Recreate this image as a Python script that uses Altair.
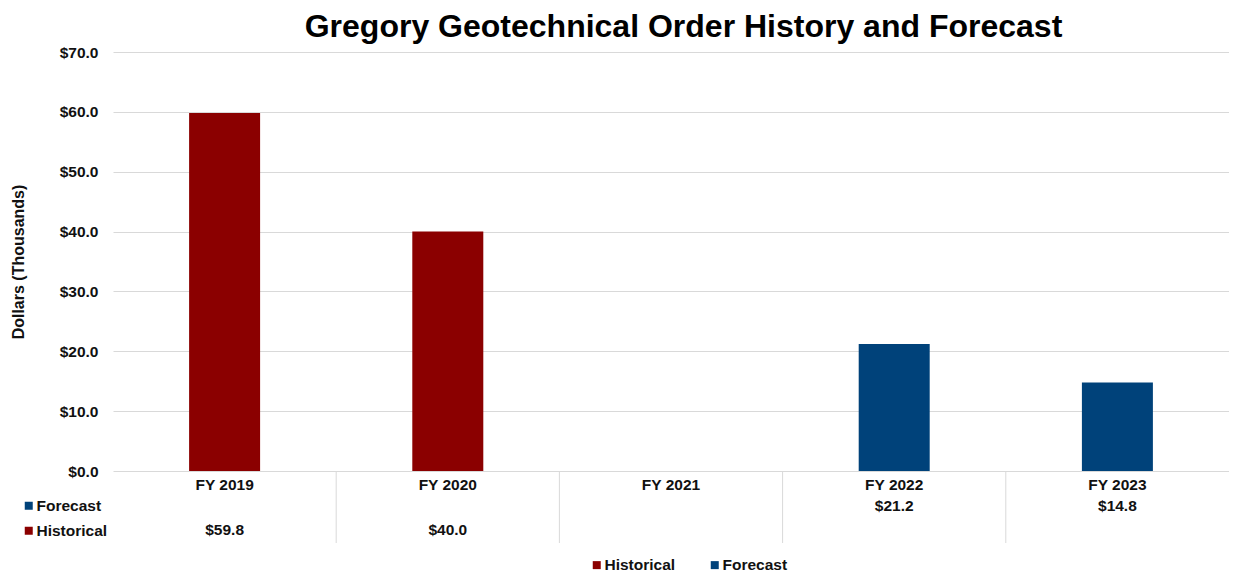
import altair as alt
import pandas as pd

# ---- data ----
years = ["FY 2019", "FY 2020", "FY 2021", "FY 2022", "FY 2023"]
historical = [59.8, 40.0, None, None, None]
forecast = [None, None, None, 21.2, 14.8]
series_names = ["Historical", "Forecast"]
series_colors = ["#8B0000", "#00427A"]
y_ticks = [0, 10, 20, 30, 40, 50, 60, 70]
title_text = "Gregory Geotechnical Order History and Forecast"
y_title = "Dollars (Thousands)"

rows = []
for yr, h, f in zip(years, historical, forecast):
    if h is not None:
        rows.append({"Year": yr, "Series": "Historical", "Value": h})
    if f is not None:
        rows.append({"Year": yr, "Series": "Forecast", "Value": f})
df = pd.DataFrame(rows)
seps = pd.DataFrame({"Year": years[1:]})
row_hdr = pd.DataFrame({"Row": ["Forecast", "Historical"]})
title_df = pd.DataFrame({"t": [title_text]})

FONT = "Liberation Sans"
TXT = "#111111"
GRID = "#d9d9d9"
W, H = 1116, 419

x_scale = alt.Scale(domain=years, paddingInner=0, paddingOuter=0)
x_axis = alt.Axis(title=None, labelAngle=0, labelFontSize=15.5, labelFontWeight="bold",
                  labelColor=TXT, labelPadding=6, ticks=False, domain=False,
                  grid=False, labelFont=FONT)
x_enc = alt.X("Year:N", sort=years, scale=x_scale, axis=x_axis)

bars = alt.Chart(df).mark_bar(size=71).encode(
    x=x_enc,
    y=alt.Y("Value:Q", scale=alt.Scale(domain=[0, 70], nice=False),
            axis=alt.Axis(values=y_ticks, format="$.1f", labelFontSize=15.5,
                          labelFontWeight="bold", labelColor=TXT, labelPadding=15,
                          labelFont=FONT, ticks=False, domain=False,
                          gridColor=GRID, gridWidth=1,
                          title=y_title, titleFont=FONT, titleFontSize=16,
                          titleFontWeight="bold", titleColor=TXT,
                          titleX=-95, titleY=H / 2, titleAlign="center",
                          titleBaseline="middle")),
    color=alt.Color("Series:N",
                    scale=alt.Scale(domain=series_names, range=series_colors),
                    legend=alt.Legend(orient="none", legendX=476, legendY=505,
                                      direction="horizontal", title=None,
                                      symbolType="square", symbolSize=64,
                                      symbolStrokeWidth=0, labelFontSize=15.5,
                                      labelFontWeight="bold", labelFont=FONT,
                                      labelColor=TXT, labelOffset=0,
                                      columnPadding=31)),
)

separators = alt.Chart(seps).mark_rule(color=GRID, strokeWidth=1).encode(
    x=alt.X("Year:N", sort=years, scale=x_scale, axis=x_axis, bandPosition=0),
    y=alt.value(H),
    y2=alt.value(H + 72),
)

fc_text = alt.Chart(df).transform_filter(alt.datum.Series == "Forecast").mark_text(
    font=FONT, fontSize=15.5, fontWeight="bold", color=TXT, baseline="middle"
).encode(x=x_enc, y=alt.value(454), text=alt.Text("Value:Q", format="$.1f"))

hi_text = alt.Chart(df).transform_filter(alt.datum.Series == "Historical").mark_text(
    font=FONT, fontSize=15.5, fontWeight="bold", color=TXT, baseline="middle"
).encode(x=x_enc, y=alt.value(477.5), text=alt.Text("Value:Q", format="$.1f"))

row_keys = alt.Chart(row_hdr).mark_square(opacity=0, size=0).encode(
    x=alt.value(0), y=alt.value(0),
    color=alt.Color("Row:N",
                    scale=alt.Scale(domain=["Forecast", "Historical"],
                                    range=[series_colors[1], series_colors[0]]),
                    legend=alt.Legend(orient="none", legendX=-92, legendY=446,
                                      direction="vertical", title=None,
                                      symbolType="square", symbolSize=64,
                                      symbolOpacity=1, symbolStrokeWidth=0,
                                      labelFontSize=15.5, labelFontWeight="bold",
                                      labelFont=FONT, labelColor=TXT,
                                      labelOffset=0, rowPadding=8)),
)

title = alt.Chart(title_df).mark_text(
    font=FONT, fontSize=32, fontWeight="bold", color="#000000",
    align="center", baseline="alphabetic"
).encode(x=alt.value(570.5), y=alt.value(-15), text="t:N")

chart = alt.layer(bars, separators, fc_text, hi_text, row_keys, title).resolve_scale(
    color="independent"
).properties(
    width=W, height=H,
    padding={"left": 105, "top": 44, "right": 0, "bottom": 103},
    autosize=alt.AutoSizeParams(type="none"),
).configure(font=FONT).configure_view(
    strokeWidth=0, stroke="transparent"
).configure_axisX(domain=False, grid=False)

chart.save("out.html", embed_options={"renderer": "svg", "actions": False})
